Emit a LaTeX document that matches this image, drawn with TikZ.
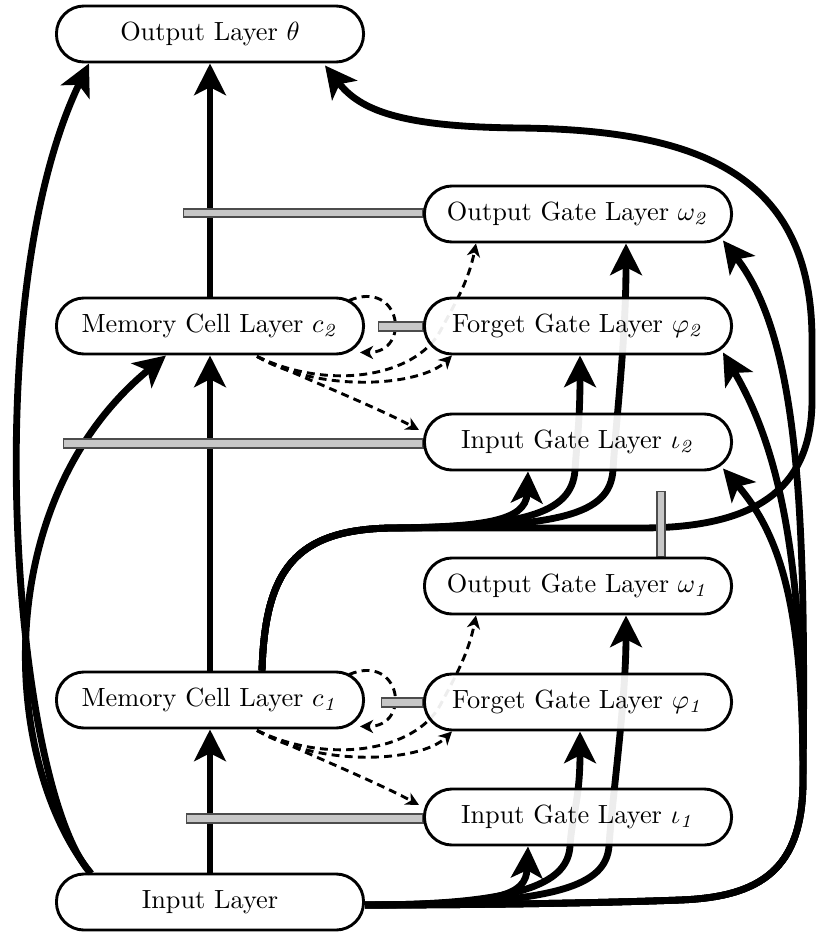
\documentclass[tikz,border=0pt]{standalone}
\usetikzlibrary{arrows.meta,calc}
\pgfdeclarelayer{edges}
\pgfdeclarelayer{bars}
\pgfsetlayers{edges,bars,main}
\tikzset{
  layerbox/.style={draw, line width=1.1pt, rounded corners=10.5pt, fill=white,
    fill opacity=0.93, text opacity=1, minimum width=116.7pt,
    minimum height=21.3pt, inner sep=0pt},
  conn/.style={line width=2.6pt, -{Stealth[length=12pt,width=12pt,inset=3pt]}},
  peep/.style={line width=1.1pt, dash pattern=on 3pt off 2pt,
    -{Stealth[length=5pt,width=5pt,inset=1.5pt]}},
  gatebar/.style={draw=black!70, fill=black!22, line width=0.4pt},
}
\begin{document}
\begin{tikzpicture}[x=0.38pt,y=-0.38pt]
\useasboundingbox (0,0) rectangle (817,932);

% layers of the network
\node[layerbox] (out) at (210,34)  {Output Layer $\theta$};
\node[layerbox] (og2) at (578,214) {Output Gate Layer $\omega_{\mathit{2}}$};
\node[layerbox] (mc2) at (210,326) {Memory Cell Layer $c_{\mathit{2}}$};
\node[layerbox] (fg2) at (578,326) {Forget Gate Layer $\varphi_{\mathit{2}}$};
\node[layerbox] (ig2) at (578,442) {Input Gate Layer $\iota_{\mathit{2}}$};
\node[layerbox] (og1) at (578,586) {Output Gate Layer $\omega_{\mathit{1}}$};
\node[layerbox] (mc1) at (210,700) {Memory Cell Layer $c_{\mathit{1}}$};
\node[layerbox] (fg1) at (578,702) {Forget Gate Layer $\varphi_{\mathit{1}}$};
\node[layerbox] (ig1) at (578,817) {Input Gate Layer $\iota_{\mathit{1}}$};
\node[layerbox] (in)  at (210,902) {Input Layer};

\begin{pgfonlayer}{edges}
  % vertical cell chain
  \draw[conn] (in.north) -- (mc1.south);
  \draw[conn] (mc1.north) -- (mc2.south);
  \draw[conn] (mc2.north) -- (out.south);

  % input layer to output layer and to the second cell layer
  \draw[conn] ([shift={(36,1)}]in.north west) .. controls (15,790) and (-25,300) .. ([shift={(34,0)}]out.south west);
  \draw[conn] ([shift={(36,1)}]in.north west) .. controls (0,760) and (-10,500) .. ([shift={(111,0)}]mc2.south west);

  % input layer to the first gate layers
  \draw[conn] ([shift={(0,3)}]in.east) .. controls (500,904) and (526,896) .. ([shift={(-50,0)}]ig1.south);
  \draw[conn] ([shift={(0,3)}]in.east) .. controls (530,905) and (568,880) .. (570,846)
    .. controls (572,815) and (580,800) .. ([shift={(2,0)}]fg1.south);
  \draw[conn] ([shift={(0,3)}]in.east) .. controls (560,905) and (606,885) .. (609,846)
    .. controls (612,800) and (626,700) .. ([shift={(48,0)}]og1.south);

  % input layer to the second gate layers
  \draw[conn] ([shift={(0,3)}]in.east) .. controls (480,905) and (600,903) .. (680,900)
    .. controls (760,897) and (803,870) .. (803,780)
    .. controls (803,620) and (785,540) .. ([shift={(-10,-3)}]ig2.south east);
  \draw[conn] ([shift={(0,3)}]in.east) .. controls (480,905) and (600,903) .. (680,900)
    .. controls (760,897) and (803,870) .. (803,780)
    .. controls (803,560) and (780,450) .. ([shift={(-10,-3)}]fg2.south east);
  \draw[conn] ([shift={(0,3)}]in.east) .. controls (480,905) and (600,903) .. (680,900)
    .. controls (760,897) and (803,870) .. (803,780)
    .. controls (806,520) and (800,340) .. ([shift={(-10,-3)}]og2.south east);

  % first cell layer to the second gate layers and the output layer
  \draw[conn] ([shift={(52,0)}]mc1.north) .. controls (265,570) and (295,530) .. (390,528)
    .. controls (480,527) and (526,522) .. ([shift={(-50,0)}]ig2.south);
  \draw[conn] ([shift={(52,0)}]mc1.north) .. controls (265,570) and (295,530) .. (390,528)
    .. controls (520,527) and (572,515) .. (575,470)
    .. controls (577,440) and (580,420) .. ([shift={(2,0)}]fg2.south);
  \draw[conn] ([shift={(52,0)}]mc1.north) .. controls (265,570) and (295,530) .. (390,528)
    .. controls (560,528) and (610,515) .. (613,470)
    .. controls (616,420) and (626,340) .. ([shift={(48,0)}]og2.south);
  \draw[conn] ([shift={(52,0)}]mc1.north) .. controls (265,570) and (295,530) .. (390,528)
    -- (640,528) .. controls (740,528) and (812,500) .. (812,400) -- (812,340)
    .. controls (812,175) and (700,130) .. (520,128)
    .. controls (400,127) and (360,110) .. ([shift={(-40,2)}]out.south east);

  % peephole and self connections of the cell layers
  \foreach \m/\i/\f/\o in {mc2/ig2/fg2/og2, mc1/ig1/fg1/og1} {
    \draw[peep] ([shift={(47,1)}]\m.south) .. controls +(43,20) and +(-40.5,-22) .. ([shift={(-4,-12)}]\i.west);
    \draw[peep] ([shift={(47,1)}]\m.south) .. controls +(63,37) and +(-31.5,31) .. ([shift={(29,0)}]\f.south west);
    \draw[peep] ([shift={(47,1)}]\m.south) .. controls +(73,35) and +(-25,45) .. +(183,-25)
      .. controls +(15,-28) and +(-7.5,38) .. ([shift={(53,0)}]\o.south west);
    \draw[peep] ([shift={(-16,4)}]\m.north east) .. controls +(52,-22) and +(52,0) .. ([shift={(-5,-3)}]\m.south east);
  }
\end{pgfonlayer}

\begin{pgfonlayer}{bars}
  % multiplicative gates
  \path[gatebar] ([shift={(-239.5,-5)}]og2.west) rectangle ([shift={(0,3)}]og2.west);
  \path[gatebar] ([shift={(-44.5,-4)}]fg2.west) rectangle ([shift={(0,5)}]fg2.west);
  \path[gatebar] ([shift={(-359.5,-3)}]ig2.west) rectangle ([shift={(0,6)}]ig2.west);
  \path[gatebar] ([shift={(79,-65)}]og1.north) rectangle ([shift={(87,0)}]og1.north);
  \path[gatebar] ([shift={(-41.5,-4)}]fg1.west) rectangle ([shift={(0,5)}]fg1.west);
  \path[gatebar] ([shift={(-236.5,-3)}]ig1.west) rectangle ([shift={(0,6)}]ig1.west);
\end{pgfonlayer}
\end{tikzpicture}
\end{document}
